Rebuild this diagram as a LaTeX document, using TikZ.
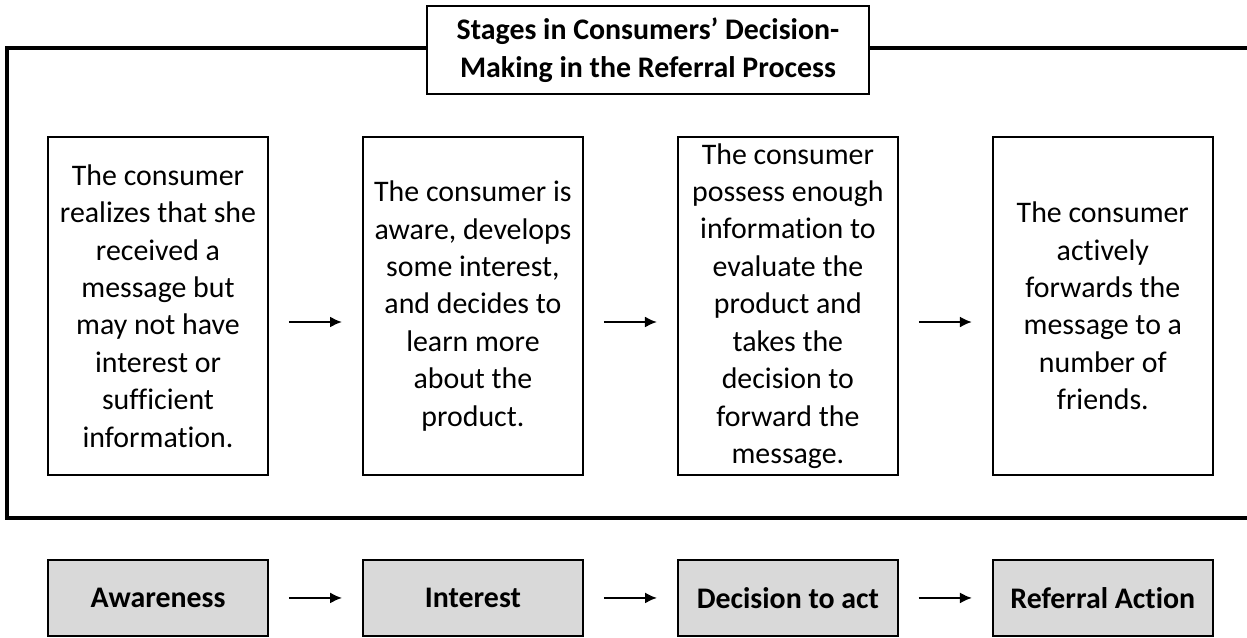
\documentclass[tikz,border=0pt]{standalone}
\usepackage{fontspec}
\setmainfont{Carlito}[Ligatures=NoCommon]
\usetikzlibrary{positioning, arrows.meta}
\tikzset{>={Latex[length=2.4mm, width=2.2mm]}}
\definecolor{phasegrey}{HTML}{D9D9D9}
\newcommand{\bodysize}{\fontsize{17}{21.3}\selectfont}
\tikzset{
  stagebox/.style={draw, line width=1.1pt, minimum width=4.4cm, minimum height=6.76cm, align=center, inner sep=0pt},
  phasebox/.style={draw, line width=1pt, fill=phasegrey, minimum width=4.4cm, minimum height=1.52cm, font=\bodysize\bfseries},
  titlebox/.style={draw, line width=1.5pt, fill=white, minimum width=8.84cm, minimum height=1.76cm, align=center, font=\bodysize\bfseries},
  frame/.style={line width=1.8pt},
  flow/.style={->, line width=1.1pt, shorten <=0.4cm, shorten >=0.4cm}
}

\begin{document}
\begin{tikzpicture}[x=0.02cm, y=-0.02cm, font=\bodysize, node distance=6.3cm]
  \useasboundingbox (0,0) rectangle (1247,637);
  % outer frame, open on the right
  \coordinate (ftl) at (7,48);
  \coordinate (fbl) at (7,518);
  \coordinate (ftr) at (1247,48);
  \coordinate (fbr) at (1247,518);
  \draw[frame] (ftr) -- (ftl) -- (fbl) -- (fbr);
  \node[titlebox] (title) at (648,50) {Stages in Consumers’ Decision-\\Making in the Referral Process};
  % stages
  \node[stagebox] (s1) at (158,306) {The consumer\\realizes that she\\received a\\message but\\may not have\\interest or\\sufficient\\information.};
  \node[stagebox, right of=s1] (s2) {The consumer is\\aware, develops\\some interest,\\and decides to\\learn more\\about the\\product.};
  \node[stagebox, right of=s2] (s3) {The consumer\\possess enough\\information to\\evaluate the\\product and\\takes the\\decision to\\forward the\\message.};
  \node[stagebox, right of=s3] (s4) {The consumer\\actively\\forwards the\\message to a\\number of\\friends.};
  \draw[flow] ([yshift=-0.32cm]s1.east) -- ([yshift=-0.32cm]s2.west);
  \draw[flow] ([yshift=-0.32cm]s2.east) -- ([yshift=-0.32cm]s3.west);
  \draw[flow] ([yshift=-0.32cm]s3.east) -- ([yshift=-0.32cm]s4.west);
  % phases
  \node[phasebox, below of=s1, node distance=5.84cm] (g1) {Awareness};
  \node[phasebox, below of=s2, node distance=5.84cm] (g2) {Interest};
  \node[phasebox, below of=s3, node distance=5.84cm] (g3) {Decision to act};
  \node[phasebox, below of=s4, node distance=5.84cm] (g4) {Referral Action};
  \draw[flow] (g1) -- (g2);
  \draw[flow] (g2) -- (g3);
  \draw[flow] (g3) -- (g4);
\end{tikzpicture}
\end{document}
